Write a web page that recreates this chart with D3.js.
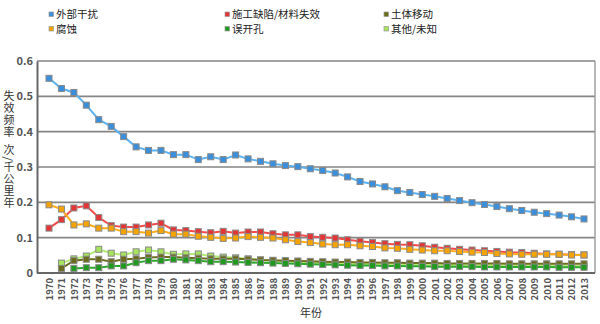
<!DOCTYPE html>
<html><head><meta charset="utf-8">
<script src="https://cdn.jsdelivr.net/npm/d3@7"></script>
<style>body{margin:0;background:#fff}svg{display:block}text{font-family:"Noto Sans CJK SC","DejaVu Sans",sans-serif}</style>
</head><body><svg id="c" width="600" height="324"></svg>
<script>
const years = d3.range(1970, 2014);
const yTicks = [0, 0.1, 0.2, 0.3, 0.4, 0.5, 0.6];
const yTickLabels = ["0", "0.1", "0.2", "0.3", "0.4", "0.5", "0.6"];
const seriesNames = ["外部干扰", "施工缺陷/材料失效", "土体移动", "腐蚀", "误开孔", "其他/未知"];
const external = [.551,.522,.511,.475,.434,.415,.386,.357,.347,.347,.335,.335,.321,.329,.321,.334,.323,.316,.309,.304,.301,.295,.290,.283,.272,.259,.252,.244,.233,.228,.222,.217,.211,.205,.199,.194,.188,.182,.177,.172,.168,.164,.159,.153];
const construction = [.127,.151,.184,.190,.157,.134,.130,.130,.136,.141,.122,.120,.117,.114,.118,.113,.116,.116,.111,.108,.108,.103,.101,.099,.094,.090,.086,.083,.081,.080,.077,.073,.070,.067,.065,.063,.061,.059,.058,.056,.054,.053,.052,.051];
const ground = [null,.013,.035,.039,.039,.032,.039,.040,.044,.045,.045,.043,.042,.040,.040,.040,.039,.037,.036,.035,.034,.033,.032,.031,.031,.030,.030,.029,.029,.028,.028,.028,.027,.027,.027,.027,.027,.026,.026,.026,.026,.026,.026,.026];
const corrosion = [.193,.181,.136,.139,.127,.127,.117,.117,.113,.120,.110,.110,.104,.101,.098,.099,.103,.101,.099,.094,.089,.086,.082,.080,.080,.077,.075,.071,.070,.067,.065,.063,.063,.061,.059,.058,.055,.054,.053,.053,.053,.053,.051,.051];
const hotTap = [null,null,.013,.015,.015,.020,.020,.029,.035,.035,.039,.037,.035,.032,.032,.031,.030,.029,.028,.027,.026,.025,.024,.023,.022,.021,.021,.020,.020,.019,.019,.018,.018,.018,.018,.017,.017,.017,.017,.017,.017,.016,.016,.016];
const other = [null,.028,.040,.048,.067,.056,.051,.060,.065,.060,.053,.054,.054,.048,.045,.043,.040,.037,.035,.033,.031,.030,.029,.028,.027,.026,.025,.025,.024,.024,.023,.023,.023,.022,.022,.022,.022,.021,.021,.021,.021,.021,.020,.020];

const series = [
  {name: seriesNames[0], values: external, line: "#5cb3f2", fill: "#3a8fdc"},
  {name: seriesNames[1], values: construction, line: "#f24a4a", fill: "#e33535"},
  {name: seriesNames[2], values: ground, line: "#6e6e22", fill: "#6b6b1c"},
  {name: seriesNames[3], values: corrosion, line: "#ffad1f", fill: "#f5a300"},
  {name: seriesNames[4], values: hotTap, line: "#2da82d", fill: "#1f9a1f"},
  {name: seriesNames[5], values: other, line: "#b3ec74", fill: "#a8e35e"}
];
const drawOrder = [0, 1, 3, 5, 2, 4];

const svg = d3.select("#c");
const L = 37, R = 595, T = 61, B = 273;
const x = d3.scalePoint().domain(years).range([49, 584]);
const y = d3.scaleLinear().domain([0, 0.6]).range([B, T]);

// grid
svg.append("g").selectAll("line").data(yTicks.slice(1)).join("line")
  .attr("x1", L).attr("x2", R).attr("y1", d => y(d)).attr("y2", d => y(d))
  .attr("stroke", "#858585").attr("stroke-width", 1.6);
// border
svg.append("line").attr("x1", R).attr("x2", R).attr("y1", T).attr("y2", B).attr("stroke", "#9a9a9a").attr("stroke-width", 1.4);

// y axis
const yAxis = d3.axisLeft(y).tickValues(yTicks).tickSize(0).tickPadding(4).tickFormat((d, i) => yTickLabels[i]);
const gy = svg.append("g").attr("transform", `translate(${L},0)`).call(yAxis);
gy.select(".domain").attr("stroke", "#666").attr("stroke-width", 2);
gy.selectAll("text").attr("font-size", 11).attr("font-weight", "bold").attr("fill", "#555").attr("font-family", "DejaVu Sans, sans-serif");

// x axis
const xAxis = d3.axisBottom(x).tickSize(0).tickPadding(0);
const gx = svg.append("g").attr("transform", `translate(0,${B})`).call(xAxis);
gx.select(".domain").attr("d", `M${L},0H${R}`).attr("stroke", "#666").attr("stroke-width", 2);
gx.selectAll("text").attr("font-size", 9.5).attr("font-weight", "bold").attr("fill", "#555")
  .attr("font-family", "DejaVu Sans, sans-serif")
  .attr("text-anchor", "end").attr("transform", "rotate(-90)").attr("x", -5).attr("y", 0).attr("dy", "0.35em");

// lines
const line = d3.line().defined(d => d.v != null).x(d => x(d.year)).y(d => y(d.v));
drawOrder.forEach(i => {
  const s = series[i];
  const pts = years.map((yr, j) => ({year: yr, v: s.values[j]}));
  svg.append("path").datum(pts).attr("d", line).attr("fill", "none").attr("stroke", s.line).attr("stroke-width", 2);
  svg.append("g").selectAll("rect").data(pts.filter(d => d.v != null)).join("rect")
    .attr("x", d => x(d.year) - 3).attr("y", d => y(d.v) - 3).attr("width", 6).attr("height", 6)
    .attr("fill", s.fill).attr("stroke", "#8a8a8a").attr("stroke-width", 1);
});

// legend
const legendPos = [[51, 14], [227, 14], [386, 14], [51, 28.5], [227, 28.5], [386, 28.5]];
const lg = svg.append("g").selectAll("g").data(series).join("g")
  .attr("transform", (d, i) => `translate(${legendPos[i][0]},${legendPos[i][1]})`);
lg.append("rect").attr("x", -2).attr("y", -2).attr("width", 4.5).attr("height", 4.5)
  .attr("fill", d => d.fill).attr("stroke", "#999").attr("stroke-width", 0.7);
lg.append("text").attr("x", 5).attr("y", 4).attr("font-size", 10.5).attr("fill", "#222").text(d => d.name);

// y title
svg.append("text").attr("x", 9).attr("y", 90).attr("font-size", 11).attr("fill", "#333")
  .style("writing-mode", "vertical-rl").style("letter-spacing", "1px").text("失效频率\u2002次/千公里年");
// x title
svg.append("text").attr("x", 311).attr("y", 317).attr("text-anchor", "middle").attr("font-size", 11).attr("fill", "#333").text("年份");
</script></body></html>
